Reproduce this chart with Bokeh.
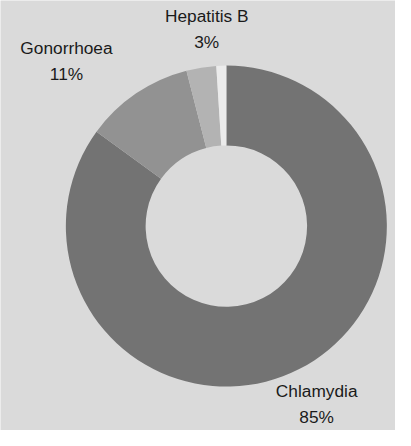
import math
from bokeh.plotting import figure
from bokeh.models import ColumnDataSource, Range1d
from bokeh.core.properties import value
from bokeh.embed import file_html
from bokeh.resources import INLINE

# ---- data ----
categories = ["Chlamydia", "Gonorrhoea", "Hepatitis B", "Other"]
shares = [85.0, 11.0, 3.0, 1.0]
show_label = [True, True, True, False]
colors = ["#737373", "#929292", "#b3b3b3", "#ebebeb"]

# ---- layout constants (in reference-pixel units, 411 x 446 frame) ----
BG = "#dadada"
W, H = 395, 430
FW, FH = 411, 446
CX, CY = 235, FH - 234
R_OUT, R_IN = 167, 84
R_LABEL = 207
LABEL_NUDGE_X = {"Chlamydia": 0, "Gonorrhoea": -50, "Hepatitis B": 12}
FONT_PX = 18 * W / FW

total = sum(shares)
starts, ends = [], []
cum = 0.0
for s in shares:
    a0 = cum / total
    cum += s
    a1 = cum / total
    starts.append(math.pi / 2 - 2 * math.pi * a0)
    ends.append(math.pi / 2 - 2 * math.pi * a1)

src = ColumnDataSource(dict(start=starts, end=ends, color=colors,
                            x=[CX] * len(shares), y=[CY] * len(shares)))

p = figure(width=W, height=H, x_range=Range1d(0, FW), y_range=Range1d(0, FH),
           x_axis_type=None, y_axis_type=None, output_backend="svg",
           toolbar_location=None, min_border=0)
p.grid.visible = False
p.outline_line_color = None
p.background_fill_color = BG
p.border_fill_color = BG

p.annular_wedge(x="x", y="y", inner_radius=R_IN, outer_radius=R_OUT,
                start_angle="start", end_angle="end", direction="clock",
                fill_color="color", line_color=None, source=src)

lx, ly, lt = [], [], []
cum = 0.0
for cat, s, show in zip(categories, shares, show_label):
    mid = 2 * math.pi * (cum + s / 2) / total
    cum += s
    if not show:
        continue
    lx.append(CX + R_LABEL * math.sin(mid) + LABEL_NUDGE_X.get(cat, 0))
    ly.append(CY + R_LABEL * math.cos(mid))
    lt.append(f"{cat}\n{round(100 * s / total)}%")

p.text(x=lx, y=ly, text=lt, text_align="center", text_baseline="middle",
       text_font=value("Liberation Sans"), text_font_size=f"{FONT_PX:.1f}px",
       text_color="#1a1a1a", text_line_height=1.3)

html = file_html(p, INLINE)
html = html.replace("<body>", f'<body style="background:{BG};">', 1)
open("out.html", "w").write(html)
